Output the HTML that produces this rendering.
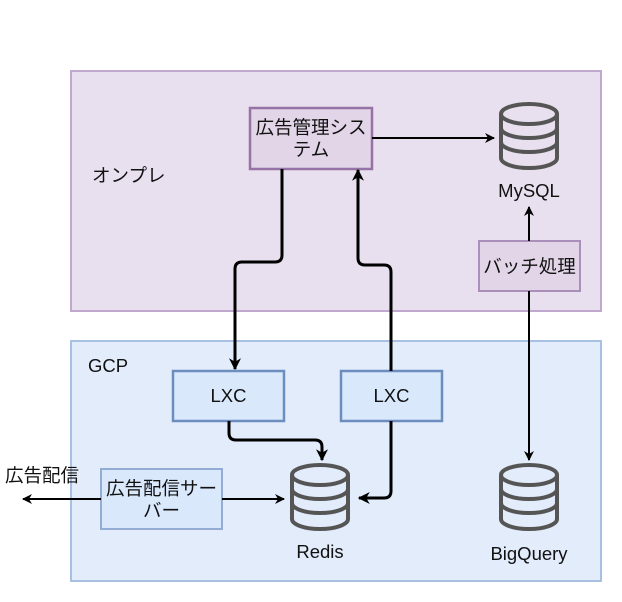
<!DOCTYPE html>
<html><head><meta charset="utf-8"><style>body{margin:0;background:#fff}svg{display:block}text{font-family:"Liberation Sans","Noto Sans CJK JP",sans-serif;font-size:18.5px;fill:#111}</style></head><body>
<svg width="622" height="602" viewBox="0 0 622 602" xmlns="http://www.w3.org/2000/svg">
<defs>
<marker id="a" viewBox="0 0 10 10" refX="9" refY="5" markerWidth="10" markerHeight="10" markerUnits="userSpaceOnUse" orient="auto"><path d="M0,0 L10,5 L0,10 L3,5z" fill="#000"/></marker>
<marker id="b" viewBox="0 0 10 10" refX="9" refY="5" markerWidth="12" markerHeight="12" markerUnits="userSpaceOnUse" orient="auto"><path d="M0,0 L10,5 L0,10 L3,5z" fill="#000"/></marker>
<g id="cyl" fill="none" stroke="#555" stroke-width="4"><path d="M0,10 a28,10 0 0 1 56,0 v44 a28,10 0 0 1 -56,0z"/><path d="M0,10 a28,10 0 0 0 56,0"/><path d="M0,24 a28,10 0 0 0 56,0"/><path d="M0,38 a28,10 0 0 0 56,0"/></g>
</defs>
<rect x="71" y="71" width="530" height="240" fill="#e8e0ef" stroke="#c0a8cf" stroke-width="2"/>
<rect x="71" y="341" width="530" height="240" fill="#e2ecfa" stroke="#a8c0e2" stroke-width="2"/>
<text x="92" y="182">オンプレ</text>
<text x="88" y="372">GCP</text>
<rect x="250" y="108" width="122" height="61" fill="#e1d5e7" stroke="#9673a6" stroke-width="2.5"/>
<text x="311" y="134" text-anchor="middle">広告管理シス</text>
<text x="311" y="156" text-anchor="middle">テム</text>
<rect x="479" y="241" width="101" height="50" fill="#e1d5e7" stroke="#ab8fbb" stroke-width="2"/>
<text x="529.5" y="273" text-anchor="middle">バッチ処理</text>
<rect x="173" y="371" width="111" height="50" fill="#dae8fc" stroke="#6c8ebf" stroke-width="2.5"/>
<text x="228.5" y="402" text-anchor="middle">LXC</text>
<rect x="341" y="371" width="101" height="50" fill="#dae8fc" stroke="#6c8ebf" stroke-width="2.5"/>
<text x="391.5" y="402" text-anchor="middle">LXC</text>
<rect x="101" y="469" width="121" height="60" fill="#dae8fc" stroke="#93acd3" stroke-width="2"/>
<text x="161.5" y="495" text-anchor="middle">広告配信サー</text>
<text x="161.5" y="517" text-anchor="middle">バー</text>
<text x="5" y="482">広告配信</text>
<use href="#cyl" x="501" y="104"/>
<text x="529" y="197" text-anchor="middle">MySQL</text>
<use href="#cyl" x="292" y="465"/>
<text x="320" y="558" text-anchor="middle">Redis</text>
<use href="#cyl" x="501" y="465"/>
<text x="529" y="560" text-anchor="middle">BigQuery</text>
<g fill="none" stroke="#000">
<path d="M372,138 H494" stroke-width="2" marker-end="url(#a)"/>
<path d="M529,241 V207" stroke-width="2" marker-end="url(#a)"/>
<path d="M529,291 V460" stroke-width="2" marker-end="url(#a)"/>
<path d="M282,169 V255 q0,7 -7,7 H242 q-7,0 -7,7 V369" stroke-width="3" marker-end="url(#b)"/>
<path d="M391,371 V272 q0,-7 -7,-7 H365 q-7,0 -7,-7 V170" stroke-width="3" marker-end="url(#b)"/>
<path d="M229,421 V433 q0,7 7,7 H315 q7,0 7,7 V460" stroke-width="3" marker-end="url(#b)"/>
<path d="M391,421 V491 q0,7 -7,7 H359" stroke-width="3" marker-end="url(#b)"/>
<path d="M222,499 H284" stroke-width="2" marker-end="url(#a)"/>
<path d="M101,499 H23" stroke-width="2" marker-end="url(#a)"/>
</g>
</svg>
</body></html>
